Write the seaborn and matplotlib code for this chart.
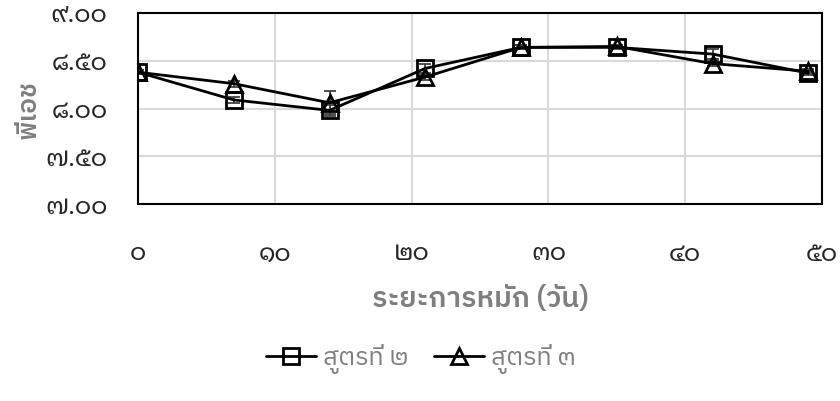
import matplotlib
matplotlib.use("Agg")
import matplotlib.pyplot as plt
from matplotlib.lines import Line2D
from matplotlib.ticker import FixedLocator, FuncFormatter
from matplotlib.textpath import TextPath
from matplotlib.font_manager import FontProperties
import seaborn as sns
import pandas as pd

# pH during fermentation for two formulas
days = [0, 7, 14, 21, 28, 35, 42, 49]
ph_formula2 = [8.38, 8.09, 7.98, 8.42, 8.64, 8.64, 8.57, 8.37]
ph_formula3 = [8.38, 8.26, 8.06, 8.33, 8.64, 8.65, 8.47, 8.39]
err_formula2 = [0.02, 0.03, 0.06, 0.05, 0.02, 0.02, 0.05, 0.02]
err_formula3 = [0.02, 0.03, 0.12, 0.03, 0.02, 0.02, 0.03, 0.02]
series_names = ["สูตรที่ ๒", "สูตรที่ ๓"]
x_ticks = [0, 10, 20, 30, 40, 50]
y_ticks = [7.0, 7.5, 8.0, 8.5, 9.0]
x_title = "ระยะการหมัก (วัน)"
y_title = "พีเอช"

THAI_DIGITS = str.maketrans("0123456789", "๐๑๒๓๔๕๖๗๘๙")


def thai(s):
    return s.translate(THAI_DIGITS)


TITLE_FONT = ["IBM Plex Sans Thai", "DejaVu Sans"]
TICK_FONT = ["Noto Sans Thai Looped", "DejaVu Sans"]
LEGEND_FONT = ["IBM Plex Sans Thai", "DejaVu Sans"]
TITLE_WEIGHT = 600


def size_for_width(text, family, weight, width_px, dpi=100):
    """Font size (pt) that makes `text` about `width_px` pixels wide."""
    fp = FontProperties(family=family, weight=weight, size=10)
    w = TextPath((0, 0), text, prop=fp).get_extents().width  # in points at 10 pt
    return 10 * width_px / (w * dpi / 72)


sns.set_theme(style="white")
plt.rcParams["font.family"] = ["IBM Plex Sans Thai", "DejaVu Sans"]

tick_size = size_for_width(thai("9.00"), TICK_FONT, "normal", 54)
xtitle_size = size_for_width(x_title, TITLE_FONT, TITLE_WEIGHT, 214)
legend_size = size_for_width(series_names[0], LEGEND_FONT, "normal", 82)

df = pd.DataFrame({
    "day": days * 2,
    "ph": ph_formula2 + ph_formula3,
    "series": [series_names[0]] * len(days) + [series_names[1]] * len(days),
})

fig = plt.figure(figsize=(8.4, 4.01), dpi=100)
ax = fig.add_axes([138 / 840, 1 - 204 / 401, (822 - 138) / 840, (204 - 13) / 401])

# error bars underneath the lines
for vals, errs in [(ph_formula2, err_formula2), (ph_formula3, err_formula3)]:
    ax.errorbar(days, vals, yerr=errs, fmt="none", ecolor="#404040",
                elinewidth=1.3, capsize=4, capthick=1.3, zorder=2)

sns.lineplot(
    data=df, x="day", y="ph", hue="series", style="series",
    palette=["black", "black"], markers={series_names[0]: "s", series_names[1]: "^"},
    dashes=False, markersize=11, markeredgewidth=2, markerfacecolor="none",
    markeredgecolor="black", linewidth=2, legend=False, ax=ax, zorder=3,
)

ax.set_xlim(0, 50)
ax.set_ylim(7.0, 9.0)
ax.xaxis.set_major_locator(FixedLocator(x_ticks))
ax.yaxis.set_major_locator(FixedLocator(y_ticks))
ax.xaxis.set_major_formatter(FuncFormatter(lambda v, p: thai(f"{v:.0f}")))
ax.yaxis.set_major_formatter(FuncFormatter(lambda v, p: thai(f"{v:.2f}")))

ax.grid(True, color="#d9d9d9", linewidth=1.5)
ax.set_axisbelow(True)
for sp in ax.spines.values():
    sp.set_visible(True)
    sp.set_color("black")
    sp.set_linewidth(1.5)

ax.tick_params(axis="both", length=0, labelsize=tick_size, colors="#262626")
ax.tick_params(axis="x", pad=27)
ax.tick_params(axis="y", pad=22)
for lab in ax.get_xticklabels() + ax.get_yticklabels():
    lab.set_family(TICK_FONT)

ax.set_xlabel(x_title, fontsize=xtitle_size, fontweight=TITLE_WEIGHT, color="#7f7f7f",
              family=TITLE_FONT, va="center")
ax.xaxis.set_label_coords(0.5, (204 - 299) / 191)
ax.set_ylabel(y_title, fontsize=xtitle_size * 0.92, fontweight=TITLE_WEIGHT, color="#7f7f7f",
              family=TITLE_FONT, va="center")
ax.yaxis.set_label_coords((29 - 138) / 684, (204 - 110) / 191)

handles = [
    Line2D([], [], color="black", linewidth=2, marker="s", markersize=11,
           markerfacecolor="none", markeredgewidth=2, markeredgecolor="black"),
    Line2D([], [], color="black", linewidth=2, marker="^", markersize=11,
           markerfacecolor="none", markeredgewidth=2, markeredgecolor="black"),
]
px = 72 / 100  # points per pixel
leg = fig.legend(handles, series_names, loc="center", bbox_to_anchor=(421 / 840, 1 - 359 / 401),
                 ncol=2, frameon=False, prop=FontProperties(family=LEGEND_FONT, size=legend_size),
                 handlelength=50 * px / legend_size, columnspacing=25 * px / legend_size,
                 handletextpad=7 * px / legend_size)
for t in leg.get_texts():
    t.set_color("#7f7f7f")

fig.savefig("out.png", dpi=100)
